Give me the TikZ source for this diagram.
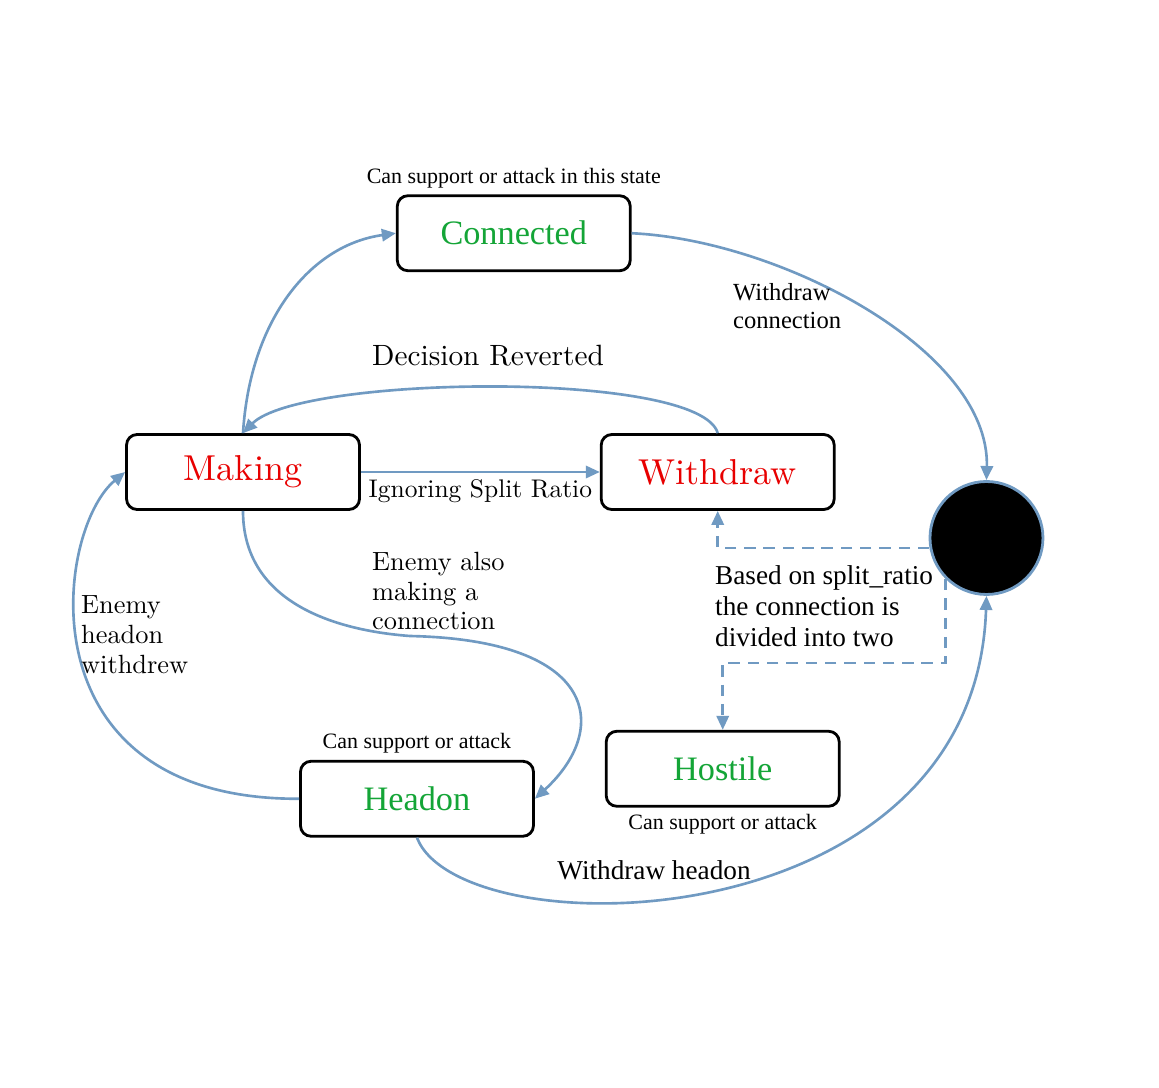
\documentclass[tikz,border=0pt]{standalone}
\usepackage{fontspec}
\newfontfamily\timesfont{Liberation Serif}
\newfontfamily\lmten{lmroman10-regular.otf}
\usepackage{xcolor}
\usepackage{tikz}
\usetikzlibrary{
  positioning,
  arrows.meta
}

\definecolor{linkblue}{RGB}{112,154,194}
\definecolor{stategreen}{RGB}{20,165,55}
\definecolor{statered}{RGB}{232,0,0}

\begin{document}
\begin{tikzpicture}[
  x=0.02cm, y=0.02cm,
  state/.style={
    rectangle,
    rounded corners=6pt,
    draw=black,
    line width=1.6pt,
    fill=white,
    minimum width=4.66cm,
    minimum height=1.5cm,
    align=center
  },
  goodstate/.style={
    state,
    text=stategreen,
    font=\timesfont\fontsize{19.5}{22}\selectfont
  },
  badstate/.style={
    state,
    text=statered,
    font=\lmten\fontsize{20.5}{22}\selectfont
  },
  sink/.style={
    circle,
    fill=black,
    draw=linkblue,
    line width=1.6pt,
    minimum size=2.26cm
  },
  link/.style={
    -{Triangle[length=8pt,width=7pt]},
    line width=1.5pt,
    draw=linkblue
  },
  split/.style={
    -{Triangle[length=8pt,width=7pt]},
    line width=1.5pt,
    dash pattern=on 6.5pt off 4.5pt,
    draw=linkblue
  },
  lmlabel/.style={
    align=left,
    font=\lmten\fontsize{15}{17}\selectfont
  },
  tlabel/.style={
    align=left,
    font=\timesfont\fontsize{15.5}{17.6}\selectfont
  },
  note/.style={
    font=\timesfont\fontsize{12.5}{14}\selectfont
  }
]
\useasboundingbox (0,0) rectangle (1159,-1088);

% States
\node[badstate] (making) at (243,-472) {Making};
\node[badstate, right=4.78cm of making] (withdraw) {Withdraw};
\node[goodstate, above right=3.22cm and 0.7cm of making] (connected) {Connected};
\node[goodstate, below=4.98cm of making, xshift=3.48cm] (headon) {Headon};
\node[goodstate, below=4.38cm of withdraw, xshift=0.1cm] (hostile) {Hostile};
\node[sink, right=1.86cm of withdraw, yshift=-1.32cm] (done) {};

% Notes on states
\node[note, above=0pt of connected] (connote) {Can support or attack in this state};
\node[note, above=0pt of headon] (headnote) {Can support or attack};
\node[note, below=0pt of hostile] (hostnote) {Can support or attack};

% Transitions
\draw[link] (making.north) .. controls (250,-320) and (310,-245) .. (connected.west);
\draw[link] (withdraw.north) .. controls (700,-370) and (300,-375) .. (making.north);
\node[lmlabel, font=\lmten\fontsize{16.7}{19}\selectfont] (revlbl) at (488,-356) {Decision Reverted};
\draw[link] (making) -- node[below, lmlabel, font=\lmten\fontsize{14.5}{17}\selectfont]{Ignoring Split Ratio} (withdraw);

\coordinate (dip) at (410,-636);
\draw[link] (making.south) .. controls (243,-600) and (330,-630) .. (dip)
  .. controls (600,-640) and (610,-730) .. (headon.east);
\node[lmlabel, anchor=west] (alsolbl) at (366,-591) {Enemy also\\making a\\connection};

\draw[link] (headon.south) .. controls (460,-950) and (975,-945) .. (done.south);
\node[tlabel] (wheadlbl) at (654,-870) {Withdraw headon};

\draw[link] (headon.west) .. controls (20,-800) and (55,-530) .. (making.west);
\node[lmlabel, anchor=west] (withdrewlbl) at (75,-635) {Enemy\\headon\\withdrew};

\draw[link] (connected.east) .. controls (780,-240) and (990,-350) .. (done.north);
\node[tlabel, anchor=west, font=\timesfont\fontsize{14}{16}\selectfont] (wconlbl) at (727,-306) {Withdraw\\connection};

\draw[split] (done.190) -| (withdraw.south);
\draw[split] (done.225) -- ++(0,-84) -| (hostile.north);
\node[tlabel, anchor=west] (splitlbl) at (709,-606) {Based on split\_ratio\\the connection is\\divided into two};

\end{tikzpicture}
\end{document}
